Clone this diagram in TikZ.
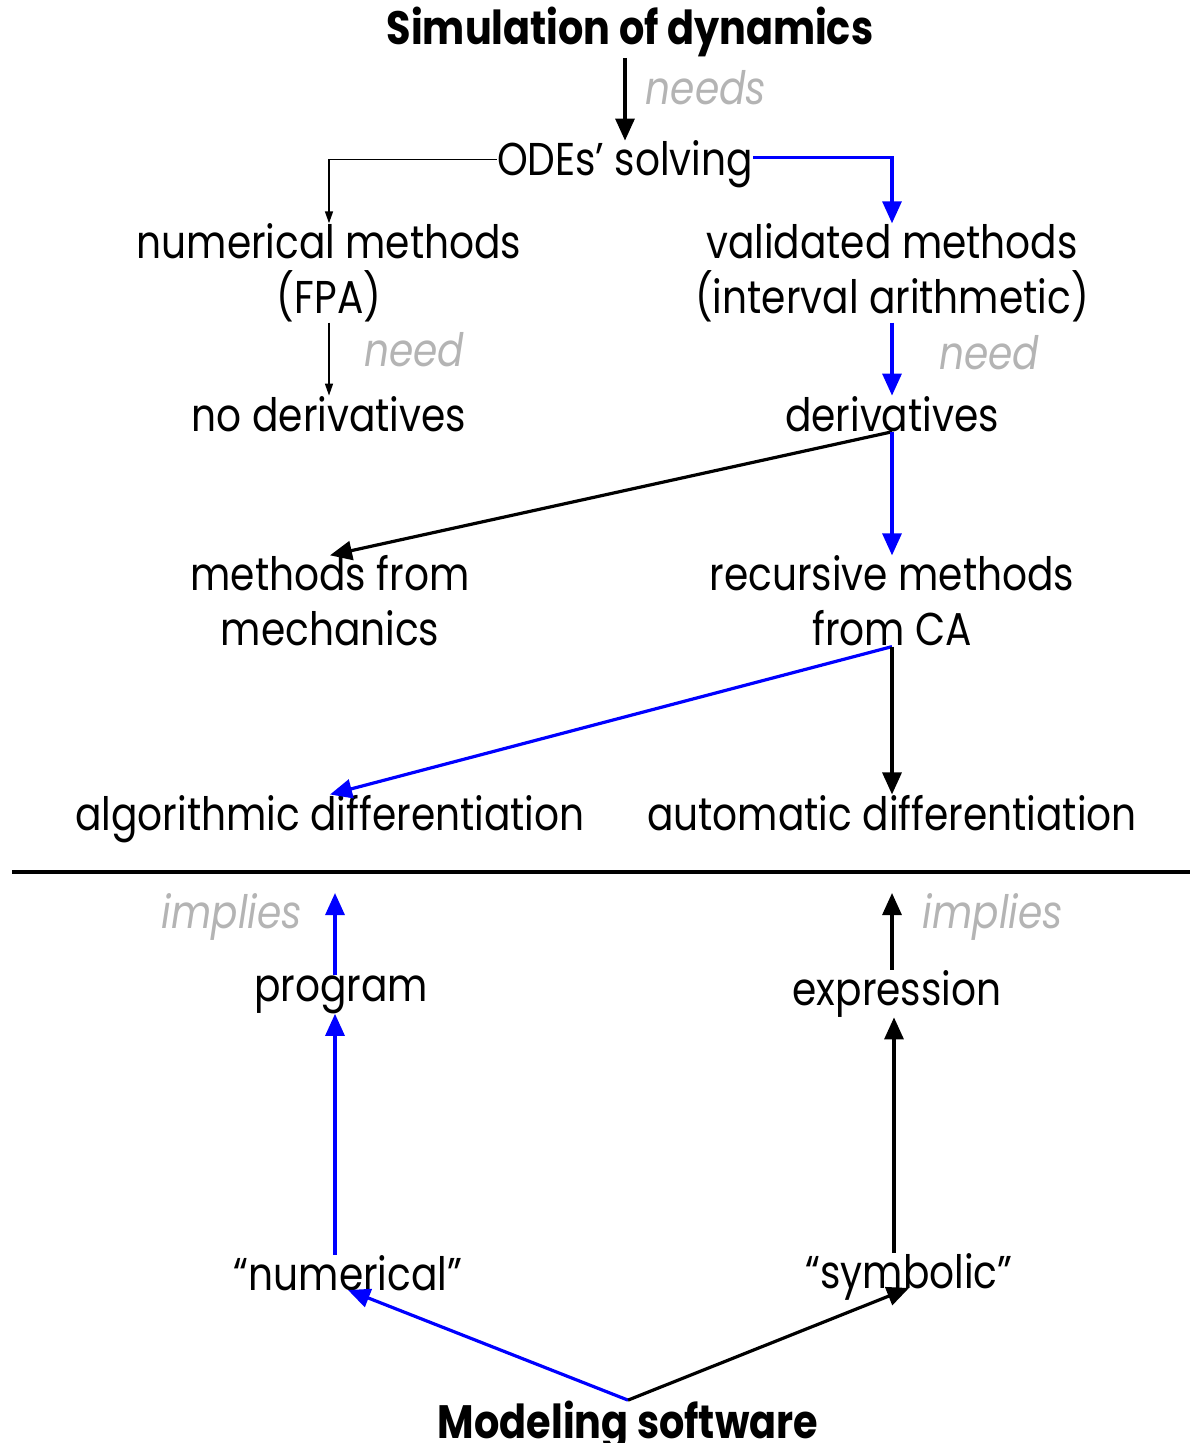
\documentclass[tikz,border=0pt]{standalone}
\usepackage{fontspec}
\setmainfont[FakeStretch=0.85]{Poppins}
\usetikzlibrary{calc,arrows.meta}
\definecolor{Faint}{RGB}{180,180,180}
\newcommand{\TermSize}{\fontsize{23}{27.5}\selectfont}
\tikzset{Term/.style={
    inner sep=0pt,
    align=center,
    font=\TermSize,
    },
  Word/.style={Term, anchor=base},
  Head/.style={Word, font=\fontsize{23.4}{28}\selectfont\bfseries},
  Verb/.style={inner sep=0pt, anchor=base, text=Faint, font=\TermSize\itshape},
  Link/.style={-{Triangle[length=11pt,width=9.5pt]}, line width=1.6pt},
  Thin/.style={-{Triangle[length=6pt,width=4pt]}, line width=0.75pt},
}

\begin{document}
\begin{tikzpicture}[x=0.5pt, y=-0.5pt]
\useasboundingbox (0,0) rectangle (1190,1443);
% upper part: what the simulation needs
\node [Head] (sim) at (630,45) {Simulation of dynamics};
\node [Word] (odes) at (625,176) {ODEs' solving};
\node [Term] (num) at (329,273) {numerical methods\\(FPA)};
\node [Term] (val) at (892,273) {validated methods\\(interval arithmetic)};
\node [Word] (noder) at (329,431) {no derivatives};
\node [Word] (der) at (892,431) {derivatives};
\node [Term] (mech) at (330,601) {methods from\\mechanics};
\node [Term] (rec) at (892,601) {recursive methods\\from CA};
\node [Word] (alg) at (330,830) {algorithmic differentiation};
\node [Word] (auto) at (892,830) {automatic differentiation};
\node [Verb] (needs) at (706,105) {needs};
\node [Verb] (needL) at (414,367) {need};
\node [Verb] (needR) at (989,370) {need};
\draw [Link] (odes.north |- sim.south) -- (odes.north);
\draw [Thin] ($(odes.west)+(0,-5)$) -| (num.north);
\draw [Link, blue] ($(odes.east)+(0,-7)$) -| (val.north);
\draw [Thin] (num.south) -- (noder.north);
\draw [Link, blue] (val.south) -- (der.north);
\draw [Link] (der.south) -- (mech.north);
\draw [Link, blue] (der.south) -- (rec.north);
\draw [Link, blue] (rec.south) -- (alg.north);
\draw [Link] (rec.south) -- (auto.north);
% separator
\draw [line width=1.6pt] (12,872) -- (1190,872);
% lower part: what the software gives
\coordinate (upL) at (335,893);
\coordinate (upR) at (892,893);
\node [Word] (prog) at (341,1001) {program};
\node [Word] (expr) at (897,1005) {expression};
\node [Word] (numq) at (348,1290) {“numerical”};
\node [Word] (symq) at (909,1288) {“symbolic”};
\node [Head] (model) at (628,1438) {Modeling software};
\node [Verb] (impL) at (232,928) {implies};
\node [Verb] (impR) at (993,928) {implies};
\draw [Link, blue] (prog.north -| upL) -- (upL);
\draw [Link] (expr.north -| upR) -- (upR);
\draw [Link, blue] (numq.north -| upL) -- (prog.south -| upL);
\draw [Link] ($(symq.north)+(-15,0)$) -- ($(expr.south)+(-3,0)$);
\draw [Link, blue] (model.north) -- (numq.base);
\draw [Link] (model.north) -- (symq.base);
\end{tikzpicture}
\end{document}
